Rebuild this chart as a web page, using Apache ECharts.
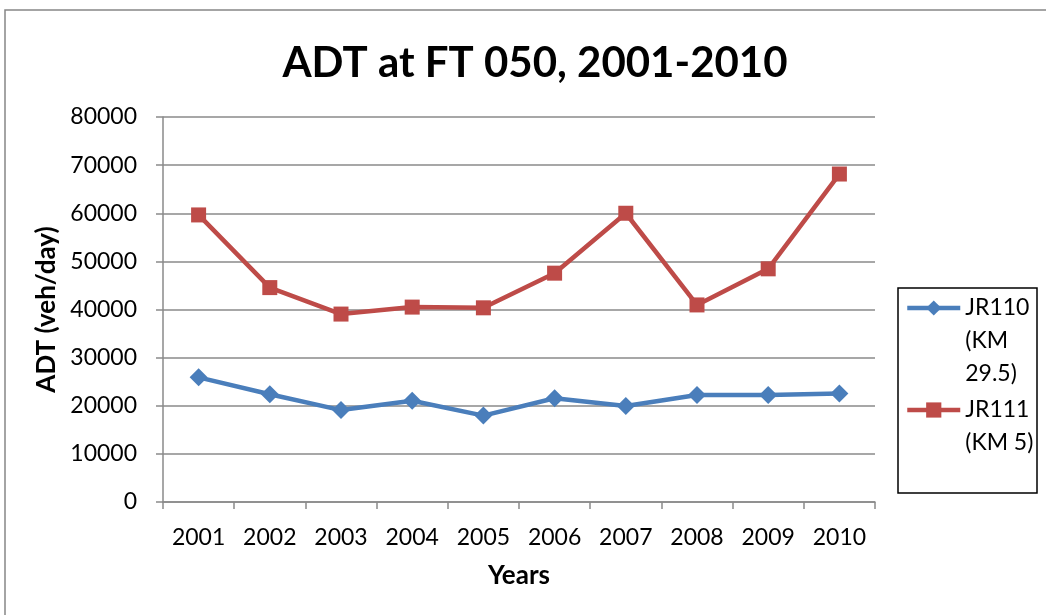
<!DOCTYPE html>
<html>
<head>
<meta charset="utf-8">
<script src="https://cdn.jsdelivr.net/npm/echarts@6/dist/echarts.min.js"></script>
<style>
html,body{margin:0;padding:0;background:#fff;}
#chart{width:1046px;height:615px;}
</style>
</head>
<body>
<div id="chart"></div>
<script>
const years = ['2001','2002','2003','2004','2005','2006','2007','2008','2009','2010'];
const jr110 = [25900, 22400, 19100, 21050, 17950, 21550, 19950, 22250, 22250, 22550];
const jr111 = [59650, 44550, 39050, 40500, 40350, 47550, 60000, 40950, 48450, 68150];
const seriesNames = ['JR110 (KM 29.5)', 'JR111 (KM 5)'];
const legendLabels = ['\n\nJR110\n(KM\n29.5)', '\nJR111\n(KM 5)'];
const yTicks = [0, 10000, 20000, 30000, 40000, 50000, 60000, 70000, 80000];

const FONT = 'Lato';
const GRID_COLOR = '#8a8a8a';
const chart = echarts.init(document.getElementById('chart'), null, {renderer: 'canvas'});

const legendFor = (i, top) => ({
  show: true,
  orient: 'vertical',
  left: 905,
  top: top,
  padding: 0,
  itemWidth: 53,
  itemHeight: 19,
  itemGap: 0,
  data: [seriesNames[i]],
  formatter: () => legendLabels[i],
  lineStyle: {width: 4.5},
  textStyle: {fontFamily: FONT, fontSize: 23, color: '#000', lineHeight: 33}
});

chart.setOption({
  animation: false,
  backgroundColor: '#fff',
  title: {
    text: 'ADT at FT 050, 2001-2010',
    left: 530, top: 37, textAlign: 'center',
    textStyle: {fontFamily: FONT, fontSize: 42, fontWeight: 'bold', color: '#000'}
  },
  graphic: [
    {type: 'rect', shape: {x: 5, y: 10, width: 1200, height: 800}, style: {fill: 'none', stroke: '#868686', lineWidth: 1.5}, silent: true, z: -1},
    {type: 'rect', shape: {x: 898, y: 288, width: 139, height: 205}, style: {fill: '#fff', stroke: '#000', lineWidth: 1.5}, silent: true, z: 0}
  ],
  legend: [legendFor(0, 308 - 82.5), legendFor(1, 410 - 49.5)],
  grid: {left: 163, right: 171, top: 117, bottom: 113, containLabel: false},
  xAxis: {
    type: 'category',
    data: years,
    boundaryGap: true,
    name: 'Years',
    nameLocation: 'middle',
    nameGap: 61,
    nameTextStyle: {fontFamily: FONT, fontSize: 26, fontWeight: 'bold', color: '#000'},
    axisLine: {lineStyle: {color: GRID_COLOR, width: 1.5}},
    axisTick: {show: true, length: 7, alignWithLabel: false, lineStyle: {color: GRID_COLOR, width: 1.5}},
    axisLabel: {fontFamily: FONT, fontSize: 23, color: '#000', margin: 24}
  },
  yAxis: {
    type: 'value',
    min: yTicks[0],
    max: yTicks[yTicks.length - 1],
    interval: yTicks[1] - yTicks[0],
    name: 'ADT (veh/day)',
    nameLocation: 'middle',
    nameGap: 103,
    nameTextStyle: {fontFamily: FONT, fontSize: 26, fontWeight: 'bold', color: '#000'},
    axisLine: {show: true, lineStyle: {color: GRID_COLOR, width: 1.5}},
    axisTick: {show: true, length: 7, lineStyle: {color: GRID_COLOR, width: 1.5}},
    axisLabel: {fontFamily: FONT, fontSize: 23, color: '#000', margin: 26, formatter: v => String(v)},
    splitLine: {show: true, lineStyle: {color: GRID_COLOR, width: 1.5}}
  },
  series: [
    {
      name: seriesNames[0], type: 'line', data: jr110,
      symbol: 'diamond', symbolSize: 18,
      itemStyle: {color: '#4A7EBB'},
      lineStyle: {color: '#4A7EBB', width: 4.5}
    },
    {
      name: seriesNames[1], type: 'line', data: jr111,
      symbol: 'rect', symbolSize: 15,
      itemStyle: {color: '#BE4B48'},
      lineStyle: {color: '#BE4B48', width: 4.5}
    }
  ]
});
</script>
</body>
</html>
